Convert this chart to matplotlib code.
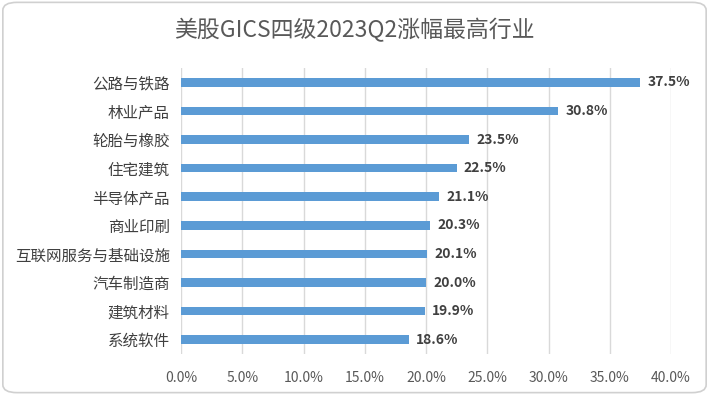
import matplotlib
matplotlib.use("Agg")
import matplotlib.pyplot as plt
from matplotlib.patches import FancyBboxPatch
from matplotlib.ticker import FuncFormatter

plt.rcParams["font.family"] = ["Noto Sans CJK SC", "DejaVu Sans"]

# 数据（自上而下）
industries = ["公路与铁路", "林业产品", "轮胎与橡胶", "住宅建筑", "半导体产品",
              "商业印刷", "互联网服务与基础设施", "汽车制造商", "建筑材料", "系统软件"]
gains = [37.5, 30.8, 23.5, 22.5, 21.1, 20.3, 20.1, 20.0, 19.9, 18.6]
xticks = [0, 5, 10, 15, 20, 25, 30, 35, 40]

BAR = "#5B9BD5"
GRID = "#D9D9D9"
TXT = "#595959"

fig = plt.figure(figsize=(7.09, 3.95), dpi=100)
ax = fig.add_axes([0.2553, 0.1038, 0.6911, 0.724])

# 圆角边框
border = FancyBboxPatch((0.004, 0.006), 0.992, 0.988,
                        boxstyle="round,pad=0,rounding_size=0.02",
                        transform=fig.transFigure, facecolor="white",
                        edgecolor="#D0D0D0", linewidth=1.2, zorder=-10)
fig.patches.append(border)

ypos = list(range(len(industries)))
ax.barh(ypos, gains, height=0.3, color=BAR, zorder=3)
ax.set_ylim(len(industries) - 0.5, -0.5)
ax.set_xlim(0, 40)
ax.set_xticks(xticks)
ax.xaxis.set_major_formatter(FuncFormatter(lambda v, p: f"{v:.1f}%"))
ax.set_yticks(ypos)
ax.set_yticklabels(industries)
ax.grid(axis="x", color=GRID, linewidth=1, zorder=0)
for s in ax.spines.values():
    s.set_visible(False)
ax.tick_params(axis="both", length=0, colors=TXT, labelsize=10)
ax.tick_params(axis="x", pad=12)
ax.tick_params(axis="y", pad=8, labelcolor="#404040")
for lbl in ax.get_yticklabels():
    lbl.set_fontsize(11.2)

for y, v in zip(ypos, gains):
    ax.text(v + 0.6, y, f"{v:.1f}%", va="center", ha="left",
            fontsize=10, fontweight="bold", color="#404040")

fig.text(0.5, 0.925, "美股GICS四级2023Q2涨幅最高行业", ha="center", va="center",
         fontsize=16.5, color=TXT)

fig.savefig("out.png", dpi=100, facecolor="white")
